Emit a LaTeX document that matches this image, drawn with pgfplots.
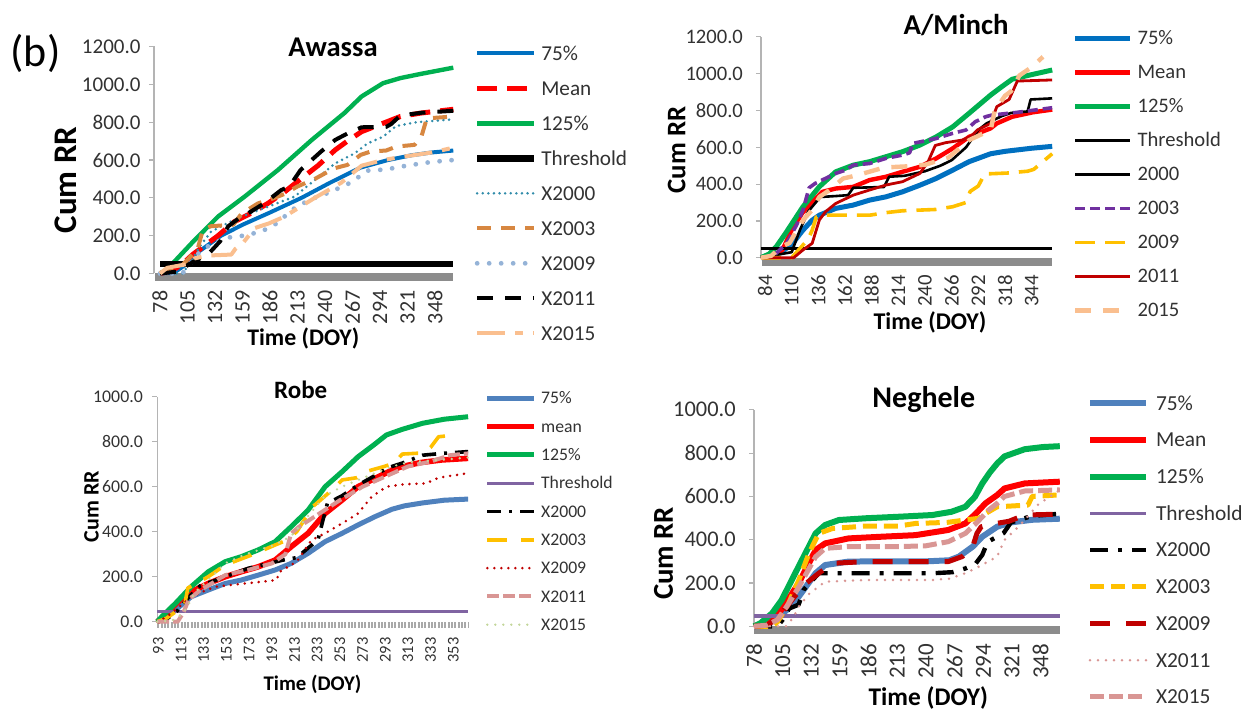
\documentclass[border=0pt]{standalone}
\usepackage{fontspec}
\setmainfont{Carlito}
\usepackage{pgfplots}
\pgfplotsset{compat=1.18}
\definecolor{cBlueA}{RGB}{0,112,192}
\definecolor{cRed}{RGB}{255,0,0}
\definecolor{cGreen}{RGB}{0,176,80}
\definecolor{cTeal}{RGB}{49,140,170}
\definecolor{cOrange}{RGB}{215,135,65}
\definecolor{cSky}{RGB}{149,179,215}
\definecolor{cPeach}{RGB}{250,191,143}
\definecolor{cBlueC}{RGB}{79,129,189}
\definecolor{cPurple}{RGB}{128,100,162}
\definecolor{cViolet}{RGB}{112,48,160}
\definecolor{cYellow}{RGB}{255,192,0}
\definecolor{cDarkRed}{RGB}{192,0,0}
\definecolor{cPink}{RGB}{217,150,148}
\definecolor{cLime}{RGB}{195,214,155}
\definecolor{cBand}{RGB}{140,140,140}
\definecolor{cAxis}{RGB}{180,180,180}
\definecolor{cText}{RGB}{50,50,50}
\newcommand\fsz[1]{\fontsize{#1}{#1}\selectfont}
\pgfplotsset{
  panel/.style={
    scale only axis, anchor=south west, clip=false,
    axis y line*=left, axis x line*=bottom,
    x axis line style={draw=none},
    y axis line style={draw=cAxis, line width=0.6pt},
    ytick style={draw=cAxis, line width=0.6pt},
    xtick style={draw=none},
    tick align=outside, major tick length=2.5pt,
    ymin=0, no markers,
    /pgf/number format/assume math mode=true,
    scaled y ticks=false,
    yticklabel style={/pgf/number format/fixed, /pgf/number format/fixed zerofill,
      /pgf/number format/precision=1, /pgf/number format/1000 sep={},
      anchor=east, inner sep=0pt, text=cText},
    xticklabel style={rotate=90, anchor=east, inner sep=0pt, text=cText},
    legend cell align=left,
    every axis plot/.append style={line join=round},
  },
}
\begin{document}
\begin{tikzpicture}
\useasboundingbox (0,0) rectangle (629pt,356.5pt);
% ---------------- Awassa ----------------
\begin{axis}[panel,
  at={(76.95pt,219.75pt)}, width=149.7pt, height=113.5pt,
  xmin=72, xmax=366, ymax=1200,
  ytick={0,200,...,1200}, xtick={78,105,...,348},
  yticklabel style={font=\fsz{10.5pt}}, yticklabel shift=4pt,
  xticklabel style={font=\fsz{11pt}}, xticklabel shift=5.9pt,
  title={Awassa}, title style={at={(axis description cs:0.598,0.9626)}, anchor=base, yshift=-7pt, font=\bfseries\fsz{14.3pt}},
  xlabel={Time (DOY)}, xlabel style={at={(axis description cs:0.499,-0.3163)}, anchor=base, font=\bfseries\fsz{11.9pt}},
  ylabel={Cum RR}, ylabel style={at={(axis description cs:-0.260,0.412)}, anchor=base, font=\bfseries\fsz{16.5pt}},
  legend style={at={(axis description cs:1.069,1.0185)}, anchor=north west, draw=none, fill=none,
    inner sep=0pt, outer sep=0pt, row sep=6.48pt, font=\fsz{10.6pt}, text=cText,
    nodes={inner sep=0pt, text height=8.9pt, text depth=2.12pt},
    /tikz/every odd column/.style={column sep=2pt}},
  legend image code/.code={\draw[#1] (0pt,0pt) -- (28.5pt,0pt);},
]
\fill[cBand] (axis cs:73,0) rectangle (axis cs:366,-42);
\addplot[cBlueA, line width=2pt] coordinates {(78,0)(92,5)(104,50)(112,100)(125,150)(138,200)(160,260)(185,320)(217,400)(245,480)(275,560)(302,600)(325,625)(345,640)(366,650)};
\addlegendentry{75\%}
\addplot[cRed, line width=2.5pt, dash pattern=on 10pt off 5pt] coordinates {(78,0)(90,15)(100,50)(110,100)(120,140)(135,200)(151,274)(168,320)(184,371)(200,430)(217,503)(233,570)(250,653)(262,700)(276,750)(297,794)(314,830)(334,848)(366,868)};
\addlegendentry{Mean}
\addplot[cGreen, line width=2.2pt] coordinates {(78,0)(85,20)(92,62)(112,177)(135,301)(161,406)(194,548)(227,706)(259,848)(276,936)(297,1006)(314,1033)(334,1055)(366,1088)};
\addlegendentry{125\%}
\addplot[black, line width=3.2pt] coordinates {(78,50)(366,50)};
\addlegendentry{Threshold}
\addplot[cTeal, line width=1.4pt, dash pattern=on 0pt off 2.8pt, line cap=round] coordinates {(78,0)(100,0)(108,60)(118,150)(128,220)(140,255)(158,301)(184,353)(210,406)(230,494)(250,582)(269,635)(282,688)(297,723)(310,780)(330,800)(366,815)};
\addlegendentry{X2000}
\addplot[cOrange, line width=2pt, dash pattern=on 7pt off 5pt] coordinates {(78,0)(85,20)(100,45)(108,90)(115,130)(120,230)(128,250)(150,258)(158,316)(174,370)(188,395)(200,420)(213,460)(230,500)(249,556)(262,574)(275,627)(285,645)(300,650)(310,671)(328,680)(335,730)(340,820)(366,830)};
\addlegendentry{X2003}
\addplot[cSky, line width=2.4pt, dash pattern=on 0pt off 6pt, line cap=round] coordinates {(78,0)(100,0)(110,70)(118,120)(130,160)(145,190)(160,200)(177,221)(190,255)(210,345)(225,390)(245,430)(265,480)(282,544)(300,550)(320,570)(345,590)(366,600)};
\addlegendentry{X2009}
\addplot[black, line width=2pt, dash pattern=on 8pt off 6pt] coordinates {(78,0)(95,10)(110,60)(125,100)(137,170)(145,250)(155,290)(165,320)(180,370)(197,441)(205,460)(216,547)(236,644)(250,706)(262,740)(276,773)(300,775)(305,790)(314,835)(335,850)(366,860)};
\addlegendentry{X2011}
\addplot[cPeach, line width=2pt, dash pattern=on 14pt off 5pt on 4pt off 5pt] coordinates {(78,0)(85,30)(95,40)(105,50)(112,80)(125,95)(148,100)(152,130)(160,165)(171,240)(185,265)(200,300)(215,350)(230,400)(256,480)(276,570)(297,600)(320,620)(345,640)(366,665)};
\addlegendentry{X2015}
\end{axis}
% ---------------- A/Minch ----------------
\begin{axis}[panel,
  at={(380.45pt,227.65pt)}, width=145.65pt, height=110.4pt,
  xmin=80, xmax=364, ymax=1200,
  ytick={0,200,...,1200}, xtick={84,110,...,344},
  yticklabel style={font=\fsz{10.3pt}}, yticklabel shift=6.3pt,
  xticklabel style={font=\fsz{10.4pt}}, xticklabel shift=6pt,
  title={A/Minch}, title style={at={(axis description cs:0.670,1.016)}, anchor=base, yshift=-6.5pt, font=\bfseries\fsz{14.4pt}},
  xlabel={Time (DOY)}, xlabel style={at={(axis description cs:0.5805,-0.326)}, anchor=base, font=\bfseries\fsz{12pt}},
  ylabel={Cum RR}, ylabel style={at={(axis description cs:-0.259,0.488)}, anchor=base, font=\bfseries\fsz{13.4pt}},
  legend style={at={(axis description cs:1.070,1.0421)}, anchor=north west, draw=none, fill=none,
    inner sep=0pt, outer sep=0pt, row sep=6.29pt, font=\fsz{10.3pt}, text=cText,
    nodes={inner sep=0pt, text height=8.65pt, text depth=2.06pt},
    /tikz/every odd column/.style={column sep=2.5pt}},
  legend image code/.code={\draw[#1] (0pt,0pt) -- (27.5pt,0pt);},
]
\fill[cBand] (axis cs:80.8,0) rectangle (axis cs:363.5,-47);
\addplot[cBlueA, line width=2.5pt] coordinates {(80,0)(90,10)(100,30)(111,78)(121,150)(130,204)(137,231)(153,268)(170,286)(186,313)(202,331)(218,358)(235,394)(251,431)(267,476)(283,522)(304,565)(318,578)(344,595)(364,605)};
\addlegendentry{75\%}
\addplot[cRed, line width=2.2pt] coordinates {(80,0)(90,5)(101,42)(110,150)(120,240)(130,304)(140,358)(153,376)(170,385)(186,422)(202,440)(218,467)(235,494)(251,540)(267,594)(283,657)(304,703)(310,730)(325,766)(345,790)(364,805)};
\addlegendentry{Mean}
\addplot[cGreen, line width=2.5pt] coordinates {(80,0)(88,20)(95,60)(104,132)(121,277)(137,386)(153,467)(170,503)(186,522)(202,549)(218,576)(235,612)(251,657)(267,711)(283,785)(304,884)(315,930)(325,970)(340,990)(364,1020)};
\addlegendentry{125\%}
\addplot[black, line width=1.8pt] coordinates {(80,50)(364,50)};
\addlegendentry{Threshold}
\addplot[black, line width=1.3pt] coordinates {(80,0)(90,10)(100,20)(110,30)(118,150)(126,250)(134,304)(138,330)(153,335)(165,340)(170,380)(200,384)(205,440)(220,445)(240,470)(255,500)(266,530)(280,600)(292,694)(300,730)(315,770)(324,787)(340,795)(343,860)(364,866)};
\addlegendentry{2000}
\addplot[cViolet, line width=1.8pt, dash pattern=on 5pt off 2.5pt] coordinates {(80,0)(90,10)(95,24)(105,78)(115,180)(121,259)(127,380)(133,404)(153,458)(163,477)(170,503)(186,512)(202,540)(218,558)(225,570)(228,621)(251,648)(267,676)(280,694)(289,739)(299,766)(305,775)(330,790)(364,815)};
\addlegendentry{2003}
\addplot[cYellow, line width=1.8pt, dash pattern=on 10pt off 5pt] coordinates {(80,0)(110,0)(118,50)(126,100)(130,150)(134,222)(143,231)(186,231)(202,245)(218,255)(250,262)(267,277)(280,300)(284,360)(292,390)(298,455)(320,460)(340,470)(346,480)(364,565)};
\addlegendentry{2009}
\addplot[cDarkRed, line width=1.4pt] coordinates {(80,0)(112,0)(121,42)(130,78)(137,205)(143,250)(153,295)(170,340)(186,368)(202,395)(218,413)(235,458)(243,522)(250,610)(260,625)(276,639)(285,660)(291,694)(304,730)(310,821)(322,860)(330,960)(364,966)};
\addlegendentry{2011}
\addplot[cPeach, line width=2.2pt, dash pattern=on 8pt off 6pt] coordinates {(80,0)(90,10)(100,60)(108,80)(115,150)(122,210)(130,260)(137,330)(147,368)(160,430)(175,450)(200,490)(224,497)(240,505)(263,545)(283,639)(304,694)(308,800)(318,880)(324,905)(332,990)(345,1040)(355,1092)};
\addlegendentry{2015}
\end{axis}
% ---------------- Robe ----------------
\begin{axis}[panel,
  at={(78.6pt,45.65pt)}, width=155.45pt, height=112.5pt,
  xmin=92, xmax=366, ymax=1000,
  ytick={0,200,...,1000}, xtick={93,113,...,353},
  yticklabel style={font=\fsz{8.9pt}}, yticklabel shift=4.5pt,
  xticklabel style={font=\fsz{8.2pt}}, xticklabel shift=5.2pt,
  title={Robe}, title style={at={(axis description cs:0.4616,0.997)}, anchor=base, yshift=-6.5pt, font=\bfseries\fsz{12.5pt}},
  xlabel={Time (DOY)}, xlabel style={at={(axis description cs:0.4995,-0.305)}, anchor=base, font=\bfseries\fsz{10.4pt}},
  ylabel={Cum RR}, ylabel style={at={(axis description cs:-0.1885,0.511)}, anchor=base, font=\bfseries\fsz{11pt}},
  legend style={at={(axis description cs:1.0528,1.0338)}, anchor=north west, draw=none, fill=none,
    inner sep=0pt, outer sep=0pt, row sep=4.95pt, font=\fsz{8.85pt}, text=cText,
    nodes={inner sep=0pt, text height=7.43pt, text depth=1.77pt},
    /tikz/every odd column/.style={column sep=2.2pt}},
  legend image code/.code={\draw[#1] (0pt,0pt) -- (23.3pt,0pt);},
]
\draw[cBand!75!white, line width=3pt, dash pattern=on 1pt off 0.67pt] (axis cs:92,-13.5) -- (axis cs:366,-13.5);
\addplot[cBlueC, line width=2.5pt] coordinates {(92,0)(100,20)(110,60)(122,111)(137,141)(152,170)(166,185)(181,207)(196,230)(210,259)(225,304)(240,356)(255,393)(269,430)(284,467)(299,500)(310,515)(326,528)(345,540)(366,545)};
\addlegendentry{75\%}
\addplot[cRed, line width=2.8pt] coordinates {(92,0)(96,15)(103,52)(113,100)(122,133)(137,170)(152,200)(166,222)(181,244)(196,274)(210,333)(225,393)(240,481)(255,541)(269,600)(284,637)(299,674)(308,690)(325,708)(343,719)(366,726)};
\addlegendentry{mean}
\addplot[cGreen, line width=2.5pt] coordinates {(92,0)(96,22)(108,81)(122,156)(137,222)(152,267)(166,289)(181,319)(196,356)(210,422)(225,496)(240,600)(255,667)(269,733)(284,790)(294,830)(308,855)(326,882)(345,900)(366,911)};
\addlegendentry{125\%}
\addplot[cPurple, line width=1.5pt] coordinates {(92,45)(366,45)};
\addlegendentry{Threshold}
\addplot[black, line width=1.8pt, dash pattern=on 7pt off 4pt on 1.5pt off 4pt] coordinates {(92,0)(100,10)(110,50)(120,110)(130,160)(140,178)(152,200)(172,237)(203,274)(215,285)(228,340)(234,370)(238,450)(242,526)(255,560)(269,607)(284,650)(294,682)(308,705)(326,740)(343,748)(366,756)};
\addlegendentry{X2000}
\addplot[cYellow, line width=1.8pt, dash pattern=on 10pt off 7pt] coordinates {(92,0)(100,15)(110,50)(116,70)(119,150)(125,165)(137,200)(152,252)(175,296)(196,341)(205,360)(215,400)(229,511)(236,541)(246,585)(255,630)(268,640)(278,670)(292,690)(301,705)(308,745)(326,750)(333,775)(340,822)(355,830)};
\addlegendentry{X2003}
\addplot[cDarkRed, line width=1.4pt, dash pattern=on 0pt off 3.5pt, line cap=round] coordinates {(92,0)(100,20)(110,60)(122,110)(135,140)(144,156)(170,170)(197,185)(200,222)(215,267)(228,363)(240,393)(255,437)(269,481)(281,555)(294,600)(308,610)(329,615)(340,640)(366,660)};
\addlegendentry{X2009}
\addplot[cPink, line width=2pt, dash pattern=on 6pt off 2pt] coordinates {(92,0)(110,0)(115,40)(120,100)(130,140)(152,207)(172,230)(193,259)(205,300)(210,392)(217,422)(235,481)(253,540)(273,600)(293,645)(313,690)(333,712)(350,740)(366,748)};
\addlegendentry{X2011}
\addplot[cLime, line width=1.3pt, dash pattern=on 0pt off 4pt, line cap=round] coordinates {(92,0)(105,5)(113,30)(118,60)(125,130)(140,200)(152,260)(170,300)(195,340)(210,380)(225,470)(240,560)(255,600)(269,630)(284,660)(299,690)(315,710)(345,720)(366,730)};
\addlegendentry{X2015}
\end{axis}
% ---------------- Neghele ----------------
\begin{axis}[panel,
  at={(377pt,43.35pt)}, width=152.9pt, height=108.25pt,
  xmin=78, xmax=366, ymax=1000,
  ytick={0,200,...,1000}, xtick={78,105,...,348},
  yticklabel style={font=\fsz{11.2pt}}, yticklabel shift=6.5pt,
  xticklabel style={font=\fsz{11.5pt}}, xticklabel shift=6pt,
  title={Neghele}, title style={at={(axis description cs:0.5553,1.022)}, anchor=base, yshift=-7pt, font=\bfseries\fsz{15pt}},
  xlabel={Time (DOY)}, xlabel style={at={(axis description cs:0.570,-0.3635)}, anchor=base, font=\bfseries\fsz{12.7pt}},
  ylabel={Cum RR}, ylabel style={at={(axis description cs:-0.265,0.337)}, anchor=base, font=\bfseries\fsz{14.4pt}},
  legend style={at={(axis description cs:1.089,1.0813)}, anchor=north west, draw=none, fill=none,
    inner sep=0pt, outer sep=0pt, row sep=7.22pt, font=\fsz{10.7pt}, text=cText,
    nodes={inner sep=0pt, text height=8.99pt, text depth=2.14pt},
    /tikz/every odd column/.style={column sep=3.5pt}},
  legend image code/.code={\draw[#1] (0pt,0pt) -- (28pt,0pt);},
]
\fill[cBand] (axis cs:78,0) rectangle (axis cs:366,-34);
\addplot[cBlueC, line width=3pt] coordinates {(78,0)(90,10)(100,40)(110,80)(120,136)(136,245)(145,283)(167,299)(199,300)(240,300)(262,305)(271,322)(284,368)(293,414)(307,460)(320,480)(340,492)(366,497)};
\addlegendentry{75\%}
\addplot[cRed, line width=3pt] coordinates {(78,0)(88,10)(95,30)(104,78)(120,198)(136,352)(145,383)(167,406)(199,414)(230,421)(261,445)(277,475)(287,521)(296,568)(307,606)(314,637)(333,660)(366,668)};
\addlegendentry{Mean}
\addplot[cGreen, line width=3pt] coordinates {(78,0)(84,14)(95,60)(104,121)(120,276)(136,429)(145,468)(158,491)(183,499)(214,506)(246,514)(264,529)(277,552)(286,598)(293,660)(300,710)(307,752)(314,785)(333,818)(350,828)(366,832)};
\addlegendentry{125\%}
\addplot[cPurple, line width=1.6pt] coordinates {(78,48)(366,48)};
\addlegendentry{Threshold}
\addplot[black, line width=2.2pt, dash pattern=on 9pt off 5pt on 2pt off 5pt] coordinates {(78,0)(100,0)(105,30)(111,82)(120,100)(125,170)(139,245)(158,245)(246,245)(265,250)(277,267)(287,291)(293,330)(298,390)(313,430)(320,480)(340,510)(366,520)};
\addlegendentry{X2000}
\addplot[cYellow, line width=2.5pt, dash pattern=on 7pt off 3.5pt] coordinates {(78,0)(95,0)(100,20)(110,100)(120,211)(130,340)(139,429)(152,452)(183,463)(214,463)(230,475)(260,480)(277,491)(290,499)(296,521)(307,552)(336,560)(340,600)(366,607)};
\addlegendentry{X2003}
\addplot[cDarkRed, line width=2.5pt, dash pattern=on 10pt off 8pt] coordinates {(78,0)(90,5)(98,30)(104,60)(115,130)(125,190)(139,245)(152,291)(183,299)(261,299)(274,322)(284,368)(288,430)(292,460)(300,470)(318,485)(333,514)(366,518)};
\addlegendentry{X2009}
\addplot[cPink, line width=1.4pt, dash pattern=on 0pt off 4pt, line cap=round] coordinates {(78,0)(108,0)(115,40)(120,90)(130,150)(145,206)(183,214)(246,214)(262,220)(277,245)(290,276)(307,322)(314,399)(325,450)(333,491)(345,560)(366,630)};
\addlegendentry{X2011}
\addplot[cPink, line width=2.5pt, dash pattern=on 7pt off 2.5pt] coordinates {(78,0)(90,5)(100,30)(110,100)(120,180)(136,321)(145,360)(167,368)(214,368)(240,372)(261,391)(277,429)(288,480)(299,537)(307,568)(314,600)(333,625)(366,630)};
\addlegendentry{X2015}
\end{axis}
\node[font=\fsz{22pt}, anchor=base] at (17.75pt,323.15pt) {(b)};
\end{tikzpicture}
\end{document}
